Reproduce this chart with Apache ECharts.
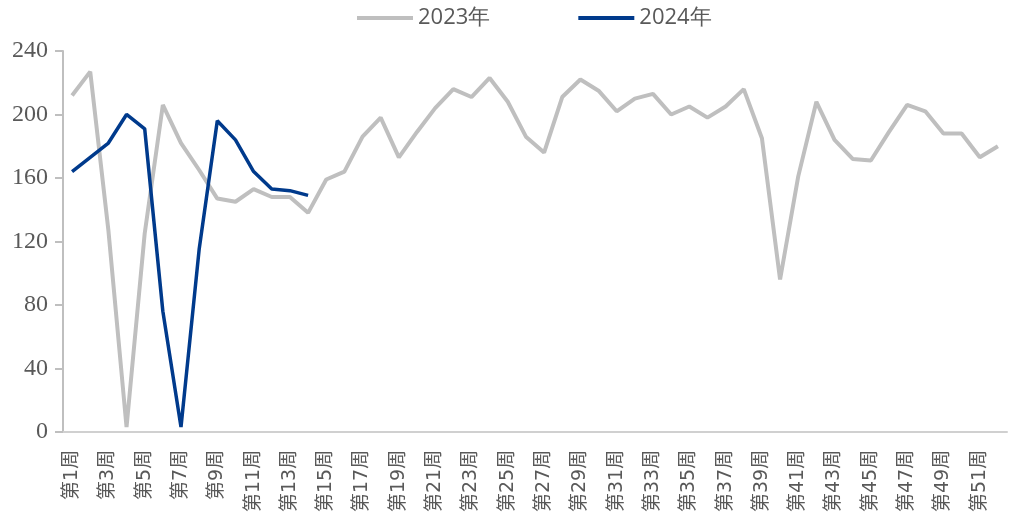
<!DOCTYPE html>
<html>
<head>
<meta charset="utf-8">
<script src="https://cdn.jsdelivr.net/npm/echarts@6/dist/echarts.min.js"></script>
<style>
  html, body { margin: 0; padding: 0; background: #fff; }
  #chart { width: 1014px; height: 515px; }
</style>
</head>
<body>
<div id="chart"></div>
<script>
// Weekly series, week 1 to week 52
const weeks = Array.from({ length: 52 }, (_, i) => '第' + (i + 1) + '周');

const values2023 = [
  212, 227, 127, 3, 125, 206, 182, 165, 147, 145,
  153, 148, 148, 138, 159, 164, 186, 198, 173, 189,
  204, 216, 211, 223, 208, 186, 176, 211, 222, 215,
  202, 210, 213, 200, 205, 198, 205, 216, 185, 96,
  161, 208, 184, 172, 171, 189, 206, 202, 188, 188,
  173, 180
];

const values2024 = [
  164, 173, 182, 200, 191, 76, 3, 115, 196, 184,
  164, 153, 152, 149
];

const yTicks = { min: 0, max: 240, interval: 40 };

const chart = echarts.init(document.getElementById('chart'));
chart.setOption({
  animation: false,
  backgroundColor: '#ffffff',
  legend: {
    left: 357,
    top: 7,
    padding: 0,
    itemWidth: 56,
    itemHeight: 4,
    itemGap: 88,
    icon: 'rect',
    textStyle: { fontFamily: 'Open Sans', fontSize: 22, color: '#595959' },
    data: ['2023年', '2024年']
  },
  grid: { left: 63, right: 7, top: 51, bottom: 82, containLabel: false },
  xAxis: {
    type: 'category',
    data: weeks,
    boundaryGap: true,
    axisLine: { lineStyle: { color: '#d0d0d0', width: 2 } },
    axisTick: { show: false },
    axisLabel: {
      interval: 1,
      rotate: 90,
      margin: 18,
      fontFamily: 'DejaVu Sans, Noto Sans CJK SC',
      fontSize: 19,
      color: '#595959'
    },
    splitLine: { show: false }
  },
  yAxis: {
    type: 'value',
    min: yTicks.min,
    max: yTicks.max,
    interval: yTicks.interval,
    axisLine: { show: true, lineStyle: { color: '#bfbfbf', width: 2 } },
    axisTick: { show: true, length: 8, lineStyle: { color: '#bfbfbf', width: 2 } },
    axisLabel: {
      margin: 15,
      fontFamily: 'Liberation Serif',
      fontSize: 24,
      color: '#595959'
    },
    splitLine: { show: false }
  },
  series: [
    {
      name: '2023年',
      type: 'line',
      data: values2023,
      symbol: 'none',
      lineStyle: { color: '#bfbfbf', width: 4 },
      itemStyle: { color: '#bfbfbf' },
      z: 2
    },
    {
      name: '2024年',
      type: 'line',
      data: values2024,
      symbol: 'none',
      lineStyle: { color: '#003a8c', width: 3.5 },
      itemStyle: { color: '#003a8c' },
      z: 3
    }
  ]
});
</script>
</body>
</html>
